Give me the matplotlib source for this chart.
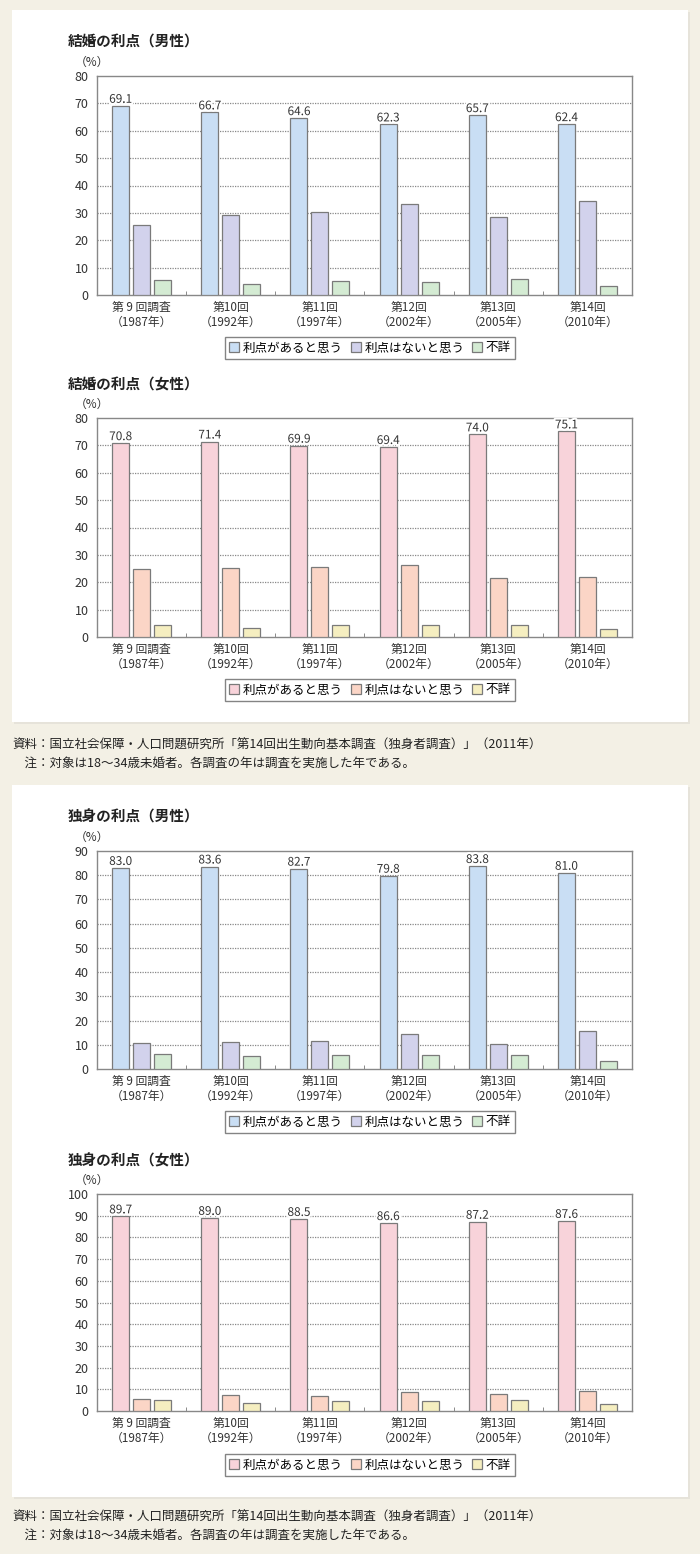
import matplotlib.pyplot as plt
import matplotlib.patheffects as pe
from matplotlib.patches import Rectangle, Patch
import numpy as np

plt.rcParams['font.family'] = ['Noto Sans CJK JP', 'DejaVu Sans']

# ---- data ----
categories = ['第 9 回調査\n（1987年）', '第10回\n（1992年）', '第11回\n（1997年）',
              '第12回\n（2002年）', '第13回\n（2005年）', '第14回\n（2010年）']
series_names = ['利点があると思う', '利点はないと思う', '不詳']

marriage_male_yes = [69.1, 66.7, 64.6, 62.3, 65.7, 62.4]
marriage_male_no = [25.4, 29.2, 30.4, 33.1, 28.6, 34.2]
marriage_male_na = [5.5, 4.2, 5.0, 4.6, 5.7, 3.3]

marriage_female_yes = [70.8, 71.4, 69.9, 69.4, 74.0, 75.1]
marriage_female_no = [24.8, 25.2, 25.7, 26.3, 21.5, 22.1]
marriage_female_na = [4.4, 3.4, 4.4, 4.3, 4.5, 2.8]

single_male_yes = [83.0, 83.6, 82.7, 79.8, 83.8, 81.0]
single_male_no = [10.6, 11.1, 11.6, 14.6, 10.3, 15.5]
single_male_na = [6.3, 5.2, 5.7, 5.6, 5.9, 3.5]

single_female_yes = [89.7, 89.0, 88.5, 86.6, 87.2, 87.6]
single_female_no = [5.3, 7.4, 7.0, 8.6, 7.7, 9.0]
single_female_na = [4.9, 3.6, 4.5, 4.8, 5.1, 3.4]

blue_colors = ['#c9def4', '#d2d2ec', '#d4ebd3']
pink_colors = ['#f8d3da', '#fbd5c6', '#f5eec0']

source_text = '資料：国立社会保障・人口問題研究所「第14回出生動向基本調査（独身者調査）」（2011年）'
note_text = '　注：対象は18～34歳未婚者。各調査の年は調査を実施した年である。'

W, H = 700, 1554
fig = plt.figure(figsize=(W / 100, H / 100), dpi=100)
fig.patch.set_facecolor('#f3f0e5')


def fx(x):
    return x / W


def fy(y):
    return 1 - y / H


# white panels
for top, bottom in [(10, 722), (785, 1497)]:
    fig.patches.append(Rectangle((fx(14), fy(bottom + 2)), fx(676), (bottom - top) / H,
                                 transform=fig.transFigure, facecolor='#e6e3da',
                                 edgecolor='none', zorder=-20))
    fig.patches.append(Rectangle((fx(12), fy(bottom)), fx(676), (bottom - top) / H,
                                 transform=fig.transFigure, facecolor='white',
                                 edgecolor='none', zorder=-10))


def draw_chart(title, ytop, ybottom, ymax, yes, no, na, colors, legend_y):
    ax = fig.add_axes([fx(97), fy(ybottom), fx(632 - 97), (ybottom - ytop) / H])
    ax.set_facecolor('none')
    x = np.arange(len(categories))
    w = 0.19
    off = 0.235
    for vals, dx, c, name in zip([yes, no, na], [-off, 0, off], colors, series_names):
        ax.bar(x + dx, vals, width=w, color=c, edgecolor='#7a7a7a', linewidth=0.9,
               zorder=3, label=name)
    for xi, v in zip(x, yes):
        ax.text(xi - off, v + ymax * 0.014, f'{v:.1f}', ha='center', va='baseline',
                fontsize=8.5, color='#333333', zorder=5,
                path_effects=[pe.withStroke(linewidth=3, foreground='white')])
    ax.set_xlim(-0.5, len(categories) - 0.5)
    ax.set_ylim(0, ymax)
    ax.set_yticks(np.arange(0, ymax + 1, 10))
    ax.set_xticks(x)
    ax.set_xticklabels(categories, fontsize=8.5, color='#333333', linespacing=1.25)
    ax.set_xticks(np.arange(0.5, len(categories) - 1, 1), minor=True)
    ax.tick_params(axis='x', which='major', length=0, pad=4)
    ax.tick_params(axis='x', which='minor', direction='in', length=3, color='#777777')
    ax.tick_params(axis='y', length=0, labelsize=9, colors='#333333', pad=6)
    for yv in np.arange(10, ymax, 10):
        ax.axhline(yv, color='#888888', linestyle=(0, (1, 1)), linewidth=0.9, zorder=1)
    for s in ax.spines.values():
        s.set_color('#888888')
        s.set_linewidth(1.0)
    fig.text(fx(68), fy(ytop - 34), title, fontsize=10.5, fontweight='bold',
             color='#222222', va='center', ha='left')
    fig.text(fx(75), fy(ytop - 14), '（%）', fontsize=8.5, color='#333333',
             va='center', ha='left')
    handles = [Patch(facecolor=c, edgecolor='#7a7a7a', linewidth=0.9) for c in colors]
    fig.legend(handles, series_names, loc='center', bbox_to_anchor=(fx(370), fy(legend_y)),
               ncol=3, fontsize=9, frameon=True, fancybox=False, edgecolor='#666666',
               handlelength=0.8, handleheight=0.8, handletextpad=0.3, columnspacing=0.6,
               borderpad=0.35, borderaxespad=0)
    return ax


draw_chart('結婚の利点（男性）', 76, 295, 80, marriage_male_yes, marriage_male_no,
           marriage_male_na, blue_colors, 348)
draw_chart('結婚の利点（女性）', 418, 637, 80, marriage_female_yes, marriage_female_no,
           marriage_female_na, pink_colors, 690)
draw_chart('独身の利点（男性）', 851, 1069, 90, single_male_yes, single_male_no,
           single_male_na, blue_colors, 1122)
draw_chart('独身の利点（女性）', 1194, 1411, 100, single_female_yes, single_female_no,
           single_female_na, pink_colors, 1465)

for y0 in [745, 1517]:
    fig.text(fx(12), fy(y0), source_text, fontsize=9, color='#222222', va='center')
    fig.text(fx(12), fy(y0 + 18), note_text, fontsize=9, color='#222222', va='center')

fig.savefig('out.png', dpi=100, facecolor=fig.get_facecolor())
